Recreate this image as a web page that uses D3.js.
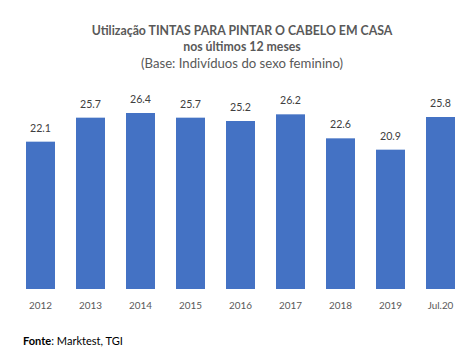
<!DOCTYPE html>
<html><head><meta charset="utf-8">
<script src="https://cdn.jsdelivr.net/npm/d3@7"></script>
<style>body{margin:0;background:#fff}svg{display:block}</style>
</head><body>
<svg id="c" width="476" height="359"></svg>
<script>
const categories = ["2012","2013","2014","2015","2016","2017","2018","2019","Jul.20"];
const values = [22.1,25.7,26.4,25.7,25.2,26.2,22.6,20.9,25.8];
const titleLines = ["Utilização TINTAS PARA PINTAR O CABELO EM CASA","nos últimos 12 meses","(Base: Indivíduos do sexo feminino)"];
const source = ["Fonte",": Marktest, TGI"];

const svg = d3.select("#c");
const font = "Lato, 'Open Sans', sans-serif";
function fit(sel, target){
  const fs = +sel.attr("font-size");
  const w = sel.node().getComputedTextLength();
  if (w>0) sel.attr("font-size", fs*target/w);
}
const x = d3.scaleBand().domain(categories).range([15.5,465.5]).paddingInner(0.42).paddingOuter(0.21);
const y = d3.scaleLinear().domain([0,30]).range([289,89]);

svg.append("g").selectAll("rect").data(values).join("rect")
  .attr("x",(d,i)=>x(categories[i])).attr("width",x.bandwidth())
  .attr("y",d=>y(d)).attr("height",d=>y(0)-y(d)).attr("fill","#4472C4");

const lab = svg.append("g").selectAll("text").data(values).join("text")
  .attr("x",(d,i)=>x(categories[i])+x.bandwidth()/2).attr("y",d=>y(d)-10)
  .attr("text-anchor","middle").attr("font-family",font).attr("font-size",12)
  .attr("fill","#404040").text(d=>d.toFixed(1));
const l0 = d3.select(lab.nodes()[0]); fit(l0,21); lab.attr("font-size", l0.attr("font-size"));

const ax = svg.append("g").attr("transform","translate(0,289)").call(d3.axisBottom(x).tickSize(0).tickPadding(13));
ax.select(".domain").remove();
const at = ax.selectAll("text").attr("font-family",font).attr("font-size",11).attr("fill","#595959");
const a0 = d3.select(at.nodes()[0]); fit(a0,23); at.attr("font-size", a0.attr("font-size"));

const t = svg.append("g");
const tl = [[titleLines[0],35,"bold",301],[titleLines[1],51,"bold",null],[titleLines[2],68,"normal",202]];
let tfs = 13;
tl.forEach(([s,yy,w,tw])=>{
  const e = t.append("text").attr("x",242).attr("y",yy).attr("text-anchor","middle")
   .attr("font-family",font).attr("font-weight",w).attr("font-size",tfs).attr("fill","#595959").text(s);
  if (tw) { fit(e,tw); if (w==="bold") tfs = +e.attr("font-size"); } else e.attr("font-size",tfs);
});

const f = svg.append("text").attr("x",23).attr("y",345).attr("font-family",font).attr("font-size",11).attr("fill","#000");
f.append("tspan").attr("font-weight","bold").text(source[0]);
f.append("tspan").text(source[1]);
fit(f,100);
</script>
</body></html>
